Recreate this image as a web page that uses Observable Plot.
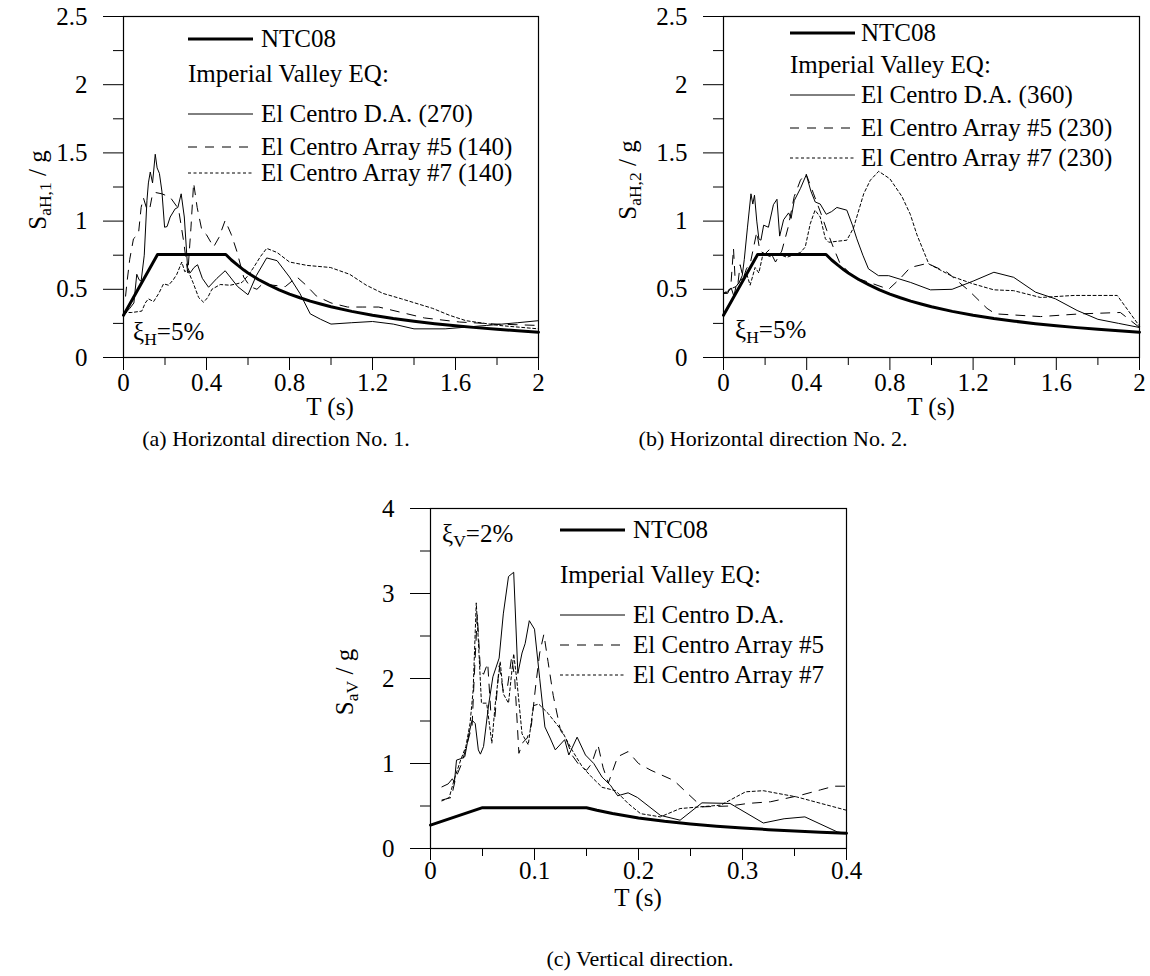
<!DOCTYPE html>
<html><head><meta charset="utf-8">
<script src="https://cdn.jsdelivr.net/npm/d3@7"></script>
<script src="https://cdn.jsdelivr.net/npm/@observablehq/plot@0.6"></script>
<style>
body{margin:0;background:#fff;}
#root{position:relative;width:1150px;height:976px;font-family:"Liberation Serif","Times New Roman",serif;color:#000;overflow:hidden;}
#root svg{position:absolute;}
.t{position:absolute;white-space:nowrap;font-size:25px;line-height:28px;}
.cap{position:absolute;white-space:nowrap;font-size:22px;line-height:26px;}
.ylab{position:absolute;white-space:nowrap;font-size:25px;transform:translate(-50%,-50%) rotate(-90deg);}
sub{font-size:70%;vertical-align:-0.3em;line-height:0;}
</style></head><body><div id="root"></div>
<script>
// ---------- DATA (T [s], Sa/g) ----------
// Panel (a): horizontal direction 1
const ntcH = [[0,0.31],[0.164,0.755],[0.493,0.755],[0.52,0.715],[0.55,0.677],[0.58,0.641],[0.6,0.62],[0.65,0.572],[0.7,0.532],[0.75,0.496],[0.8,0.465],[0.85,0.438],[0.9,0.413],[0.95,0.392],[1.0,0.372],[1.1,0.338],[1.2,0.31],[1.3,0.286],[1.4,0.266],[1.5,0.248],[1.6,0.233],[1.7,0.219],[1.8,0.207],[1.9,0.196],[2.0,0.186]];
const aDA270 = [[0,0.31],[0.03,0.36],[0.05,0.40],[0.064,0.61],[0.075,0.57],[0.085,0.56],[0.1,0.75],[0.113,1.15],[0.12,1.28],[0.129,1.36],[0.14,1.28],[0.153,1.49],[0.162,1.39],[0.173,1.35],[0.185,1.22],[0.198,0.955],[0.21,0.96],[0.225,1.03],[0.249,1.09],[0.262,1.10],[0.278,1.20],[0.293,1.03],[0.309,0.66],[0.321,0.62],[0.34,0.66],[0.357,0.68],[0.38,0.58],[0.41,0.515],[0.45,0.58],[0.49,0.636],[0.514,0.59],[0.55,0.52],[0.6,0.46],[0.64,0.60],[0.69,0.73],[0.74,0.71],[0.8,0.59],[0.85,0.47],[0.9,0.32],[0.95,0.28],[1.0,0.245],[1.1,0.255],[1.2,0.264],[1.3,0.245],[1.4,0.21],[1.55,0.21],[1.75,0.235],[1.9,0.255],[2.0,0.27]];
const aAR5_140 = [[0.01,0.45],[0.016,0.54],[0.03,0.72],[0.048,0.87],[0.072,0.905],[0.085,1.1],[0.096,1.17],[0.11,1.10],[0.125,1.08],[0.14,1.2],[0.153,1.21],[0.185,1.20],[0.225,1.175],[0.265,1.09],[0.29,0.85],[0.31,0.62],[0.325,0.95],[0.338,1.28],[0.355,1.1],[0.378,0.93],[0.40,0.90],[0.434,0.81],[0.46,0.88],[0.49,1.005],[0.52,0.9],[0.546,0.78],[0.579,0.59],[0.61,0.52],[0.643,0.50],[0.67,0.54],[0.72,0.53],[0.78,0.52],[0.836,0.59],[0.88,0.53],[0.93,0.45],[1.0,0.40],[1.08,0.37],[1.15,0.37],[1.23,0.37],[1.34,0.33],[1.45,0.29],[1.62,0.26],[1.8,0.245],[2.0,0.235]];
const aAR7_140 = [[0,0.33],[0.04,0.33],[0.088,0.34],[0.105,0.40],[0.12,0.43],[0.145,0.41],[0.17,0.47],[0.193,0.54],[0.217,0.53],[0.24,0.57],[0.257,0.61],[0.281,0.70],[0.295,0.63],[0.31,0.64],[0.335,0.55],[0.362,0.44],[0.386,0.405],[0.406,0.44],[0.426,0.50],[0.466,0.535],[0.514,0.53],[0.545,0.54],[0.571,0.55],[0.6,0.60],[0.627,0.66],[0.66,0.74],[0.69,0.80],[0.74,0.77],[0.8,0.70],[0.885,0.675],[0.997,0.66],[1.09,0.61],[1.17,0.53],[1.25,0.47],[1.34,0.43],[1.49,0.36],[1.57,0.31],[1.65,0.27],[1.81,0.235],[2.0,0.21]];
// Panel (b): horizontal direction 2
const bDA360 = [[0,0.47],[0.02,0.48],[0.037,0.51],[0.05,0.45],[0.06,0.52],[0.075,0.55],[0.09,0.6],[0.1,0.72],[0.115,0.95],[0.132,1.20],[0.141,1.125],[0.149,1.19],[0.16,1.0],[0.17,0.87],[0.18,0.86],[0.193,0.97],[0.216,0.955],[0.24,1.12],[0.257,1.16],[0.27,0.89],[0.289,1.01],[0.313,1.06],[0.325,1.02],[0.34,1.15],[0.37,1.24],[0.398,1.34],[0.42,1.22],[0.441,1.14],[0.465,1.125],[0.494,1.05],[0.52,1.07],[0.545,1.10],[0.593,1.08],[0.62,0.97],[0.641,0.87],[0.67,0.75],[0.697,0.65],[0.745,0.60],[0.794,0.60],[0.9,0.55],[0.995,0.496],[1.099,0.50],[1.2,0.56],[1.30,0.625],[1.395,0.588],[1.50,0.479],[1.596,0.43],[1.70,0.345],[1.80,0.28],[1.9,0.25],[2.0,0.22]];
const bAR5_230 = [[0,0.47],[0.02,0.47],[0.035,0.52],[0.048,0.8],[0.055,0.6],[0.07,0.55],[0.08,0.68],[0.095,0.58],[0.11,0.65],[0.13,0.7],[0.16,0.92],[0.175,0.78],[0.2,0.76],[0.22,0.79],[0.25,0.7],[0.28,0.78],[0.31,0.95],[0.34,1.18],[0.37,1.3],[0.396,1.35],[0.433,1.2],[0.47,1.05],[0.497,0.93],[0.53,0.8],[0.56,0.69],[0.625,0.59],[0.72,0.54],[0.794,0.50],[0.85,0.58],[0.898,0.66],[0.98,0.69],[1.075,0.625],[1.18,0.49],[1.267,0.36],[1.307,0.32],[1.524,0.30],[1.716,0.32],[1.908,0.33],[2.0,0.22]];
const bAR7_230 = [[0,0.47],[0.03,0.5],[0.06,0.52],[0.09,0.58],[0.11,0.62],[0.128,0.53],[0.152,0.66],[0.17,0.62],[0.19,0.76],[0.225,0.74],[0.26,0.76],[0.305,0.735],[0.37,0.77],[0.393,0.81],[0.417,0.98],[0.44,1.08],[0.465,1.03],[0.49,0.87],[0.506,0.845],[0.593,0.86],[0.625,0.95],[0.674,1.2],[0.706,1.30],[0.746,1.365],[0.80,1.31],[0.858,1.18],[0.898,1.05],[0.93,0.9],[0.987,0.686],[1.106,0.59],[1.2,0.54],[1.30,0.496],[1.395,0.49],[1.524,0.44],[1.685,0.455],[1.893,0.455],[2.0,0.23]];
// Panel (c): vertical direction
const ntcV = [[0,0.275],[0.05,0.48],[0.15,0.48],[0.16,0.45],[0.175,0.411],[0.2,0.36],[0.225,0.32],[0.25,0.288],[0.275,0.262],[0.3,0.24],[0.325,0.222],[0.35,0.206],[0.375,0.192],[0.4,0.18]];
const cDA = [[0.011,0.725],[0.017,0.76],[0.021,0.82],[0.023,0.78],[0.025,1.04],[0.03,1.06],[0.033,1.08],[0.037,1.35],[0.04,1.51],[0.043,1.47],[0.046,1.16],[0.048,1.11],[0.051,1.2],[0.056,1.7],[0.06,2.02],[0.066,2.24],[0.07,2.76],[0.075,3.2],[0.08,3.25],[0.084,2.06],[0.088,2.3],[0.091,2.41],[0.095,2.68],[0.1,2.58],[0.105,2.0],[0.11,1.43],[0.115,1.3],[0.12,1.16],[0.129,1.28],[0.133,1.1],[0.141,1.31],[0.149,1.1],[0.157,1.0],[0.165,0.84],[0.173,0.745],[0.18,0.62],[0.19,0.655],[0.199,0.60],[0.221,0.39],[0.24,0.333],[0.261,0.537],[0.288,0.53],[0.32,0.30],[0.34,0.35],[0.36,0.372],[0.391,0.196],[0.4,0.176]];
const cAR5 = [[0.011,0.57],[0.02,0.6],[0.024,0.82],[0.03,1.0],[0.035,1.22],[0.04,1.45],[0.042,2.0],[0.045,2.75],[0.048,2.1],[0.051,2.05],[0.055,2.18],[0.058,1.6],[0.062,1.55],[0.066,2.15],[0.07,1.85],[0.074,1.9],[0.078,2.25],[0.081,2.0],[0.085,1.12],[0.089,1.25],[0.093,1.3],[0.097,1.45],[0.101,1.9],[0.105,2.3],[0.109,2.52],[0.113,2.2],[0.118,1.8],[0.125,1.39],[0.13,1.3],[0.136,1.1],[0.143,0.98],[0.15,0.92],[0.155,1.0],[0.161,1.22],[0.166,0.95],[0.171,0.77],[0.18,1.08],[0.19,1.14],[0.2,1.0],[0.212,0.92],[0.234,0.8],[0.247,0.65],[0.261,0.49],[0.288,0.5],[0.305,0.53],[0.327,0.55],[0.356,0.627],[0.375,0.69],[0.388,0.733],[0.4,0.733]];
const cAR7 = [[0.011,0.56],[0.018,0.6],[0.023,0.82],[0.029,1.04],[0.034,1.2],[0.038,1.47],[0.041,1.86],[0.044,2.89],[0.046,2.45],[0.049,1.71],[0.054,1.71],[0.059,1.24],[0.062,1.67],[0.067,2.2],[0.07,1.82],[0.075,1.71],[0.08,2.29],[0.083,1.98],[0.088,1.35],[0.094,1.22],[0.099,1.68],[0.104,1.7],[0.113,1.59],[0.126,1.39],[0.136,1.16],[0.146,0.96],[0.155,0.84],[0.165,0.72],[0.178,0.68],[0.19,0.53],[0.202,0.41],[0.221,0.372],[0.24,0.47],[0.279,0.51],[0.303,0.667],[0.32,0.68],[0.352,0.607],[0.4,0.45]];
// Tick values
const xTicksH = [0,0.4,0.8,1.2,1.6,2], xMinorH = [0.2,0.6,1.0,1.4,1.8];
const yTicksH = [0,0.5,1,1.5,2,2.5], yMinorH = [0.25,0.75,1.25,1.75,2.25];
const xTicksV = [0,0.1,0.2,0.3,0.4], xMinorV = [0.05,0.15,0.25,0.35];
const yTicksV = [0,1,2,3,4], yMinorV = [0.5,1.5,2.5,3.5];

// ---------- DRAW ----------
const root = document.getElementById("root");
const toRows = arr => arr.map(([T,S]) => ({T,S}));
const FONT = '"Liberation Serif","Times New Roman",serif';

function panel(o){
  const chart = Plot.plot({
    width:o.w, height:o.h, marginLeft:o.ml, marginRight:o.mr, marginTop:o.mt, marginBottom:o.mb,
    style:{fontFamily:FONT, fontSize:"25px", color:"black", background:"transparent", overflow:"visible"},
    x:{domain:o.xd}, y:{domain:o.yd},
    marks:[
      Plot.axisX({ticks:o.xt, tickSize:o.ts, tickPadding:o.tp, tickFormat:d=>String(d), label:null}),
      Plot.axisX({ticks:o.xm, tickSize:8, tickFormat:()=>"", label:null}),
      Plot.axisY({ticks:o.yt, tickSize:20, tickPadding:16, tickFormat:d=>String(d), label:null}),
      Plot.axisY({ticks:o.ym, tickSize:10, tickFormat:()=>"", label:null}),
      Plot.frame({stroke:"black", strokeWidth:1.2}),
      Plot.line(toRows(o.s7), {x:"T", y:"S", stroke:"black", strokeWidth:1, strokeDasharray:"3,2.5"}),
      Plot.line(toRows(o.s5), {x:"T", y:"S", stroke:"black", strokeWidth:1, strokeDasharray:"9,8"}),
      Plot.line(toRows(o.sDA), {x:"T", y:"S", stroke:"black", strokeWidth:1}),
      Plot.line(toRows(o.ntc), {x:"T", y:"S", stroke:"black", strokeWidth:3})
    ]
  });
  chart.style.left = o.left+"px"; chart.style.top = o.top+"px";
  root.appendChild(chart);
}

panel({left:0, top:0, w:560, h:420, ml:123, mr:22, mt:16, mb:63, xd:[0,2], yd:[0,2.5], ts:13, tp:3,
  xt:xTicksH, xm:xMinorH, yt:yTicksH, ym:yMinorH, ntc:ntcH, sDA:aDA270, s5:aAR5_140, s7:aAR7_140});
panel({left:600, top:0, w:550, h:420, ml:123, mr:11, mt:16, mb:63, xd:[0,2], yd:[0,2.5], ts:13, tp:3,
  xt:xTicksH, xm:xMinorH, yt:yTicksH, ym:yMinorH, ntc:ntcH, sDA:bDA360, s5:bAR5_230, s7:bAR7_230});
panel({left:300, top:490, w:560, h:440, ml:130, mr:14, mt:18, mb:82, xd:[0,0.4], yd:[0,4], ts:12, tp:1,
  xt:xTicksV, xm:xMinorV, yt:yTicksV, ym:yMinorV, ntc:ntcV, sDA:cDA, s5:cAR5, s7:cAR7});

// ---------- TEXT / LEGENDS ----------
function txt(html, x, y, cls="t"){ const d=document.createElement("div"); d.className=cls; d.innerHTML=html; d.style.left=x+"px"; d.style.top=(y-14)+"px"; root.appendChild(d); return d; }
function swatch(x1, x2, y, w, dash){
  const ns="http://www.w3.org/2000/svg";
  const s=document.createElementNS(ns,"svg"); s.setAttribute("width",x2-x1); s.setAttribute("height",8);
  s.style.left=x1+"px"; s.style.top=(y-4)+"px";
  const l=document.createElementNS(ns,"line"); l.setAttribute("x1",0); l.setAttribute("x2",x2-x1); l.setAttribute("y1",4); l.setAttribute("y2",4);
  l.setAttribute("stroke","black"); l.setAttribute("stroke-width",w); if(dash) l.setAttribute("stroke-dasharray",dash);
  s.appendChild(l); root.appendChild(s);
}
function legend(x0, xt, ys, names){
  swatch(x0, x0+65, ys[0], 3); txt("NTC08", xt, ys[0]);
  txt("Imperial Valley EQ:", x0, ys[1]);
  swatch(x0, x0+65, ys[2], 1); txt(names[0], xt, ys[2]);
  swatch(x0, x0+65, ys[3], 1, "9,8"); txt(names[1], xt, ys[3]);
  swatch(x0, x0+65, ys[4], 1, "3,2.5"); txt(names[2], xt, ys[4]);
}
legend(188, 261, [39,74,114,147,173], ["El Centro D.A. (270)","El Centro Array #5 (140)","El Centro Array #7 (140)"]);
legend(790, 861, [33,65,95,128,158], ["El Centro D.A. (360)","El Centro Array #5 (230)","El Centro Array #7 (230)"]);
legend(560, 633, [530,575,615,645,675], ["El Centro D.A.","El Centro Array #5","El Centro Array #7"]);

txt("ξ<sub>H</sub>=5%", 133, 332);
txt("ξ<sub>H</sub>=5%", 735, 330);
txt("ξ<sub>V</sub>=2%", 442, 534);

function ylab(html, x, y){ const d=document.createElement("div"); d.className="ylab"; d.innerHTML=html; d.style.left=x+"px"; d.style.top=y+"px"; root.appendChild(d); }
ylab("S<sub>aH,1</sub> / g", 38, 190);
ylab("S<sub>aH,2</sub> / g", 628, 180);
ylab("S<sub>aV</sub> / g", 345, 682);

function ctr(html, cx, y, cls){ const d=txt(html, cx, y, cls); d.style.transform="translateX(-50%)"; }
ctr("T (s)", 330, 407, "t");
ctr("T (s)", 931, 407, "t");
ctr("T (s)", 638, 898, "t");
ctr("(a) Horizontal direction No. 1.", 276, 440, "cap");
ctr("(b) Horizontal direction No. 2.", 773, 440, "cap");
ctr("(c) Vertical direction.", 640, 960, "cap");
</script></body></html>
